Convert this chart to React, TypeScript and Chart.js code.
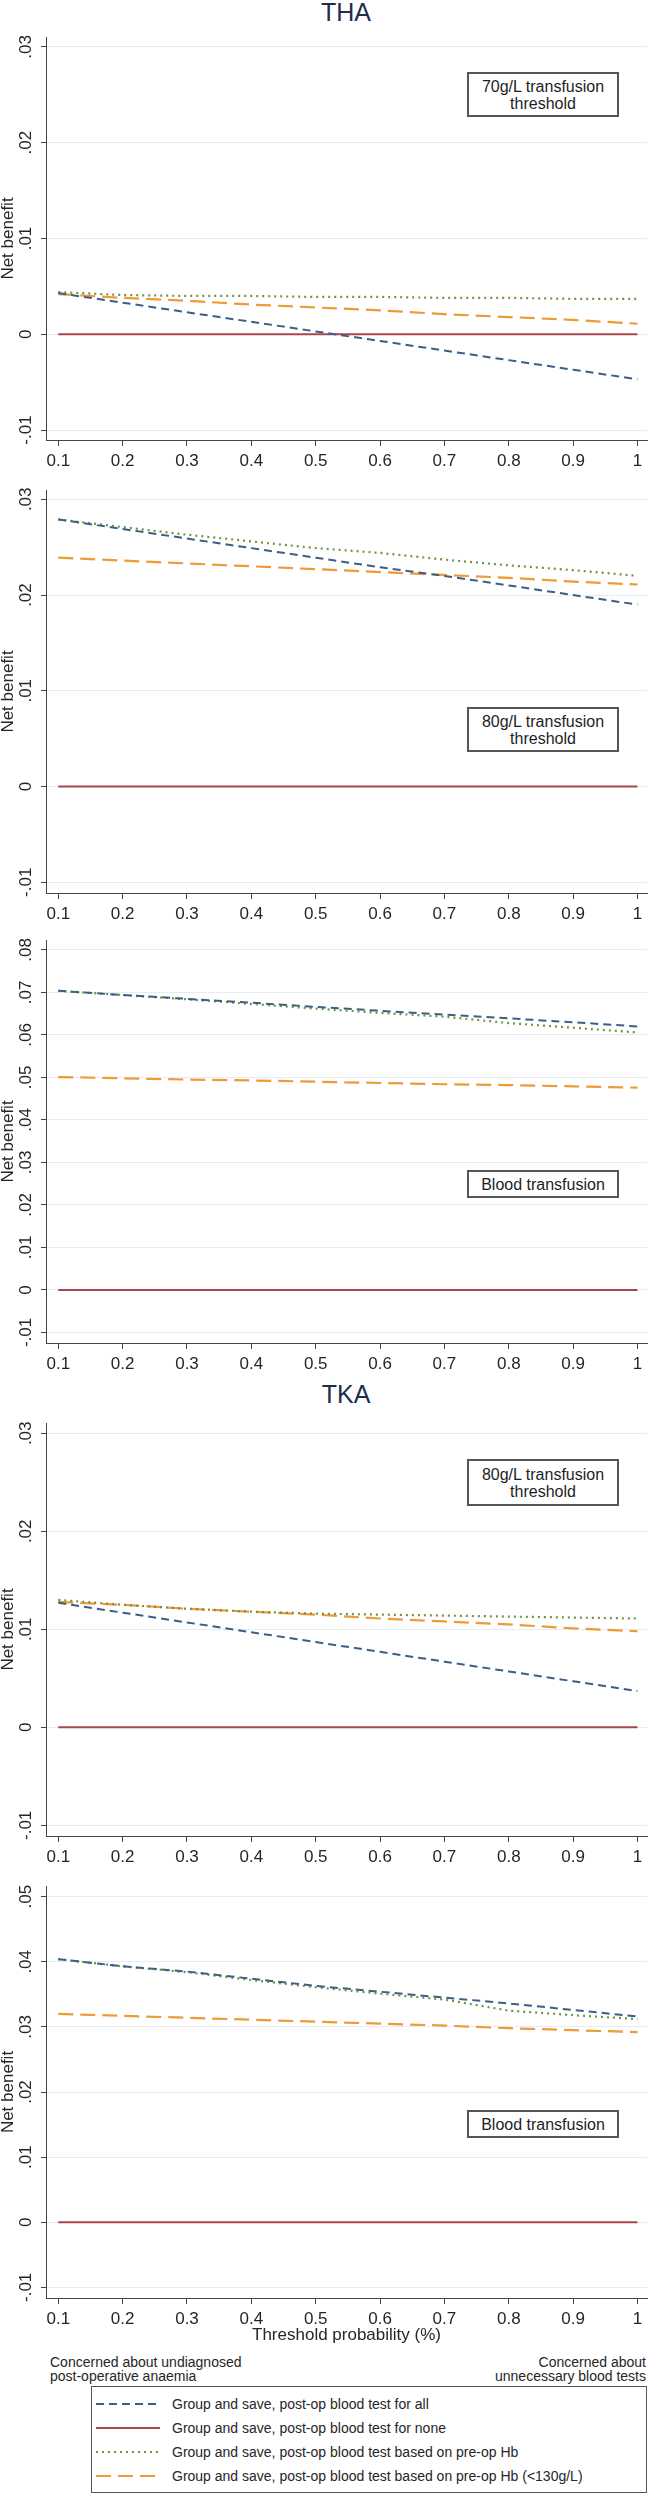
import React, { useEffect, useRef } from 'react';
import { Chart, registerables } from 'chart.js';

Chart.register(...registerables);

const FONT = "'Liberation Sans', Arial, Helvetica, sans-serif";
Chart.defaults.font.family = FONT;

// ---------- data ----------
const thresholds = [0.1, 0.2, 0.3, 0.4, 0.5, 0.6, 0.7, 0.8, 0.9, 1.0];
const xTickValues = [0.1, 0.2, 0.3, 0.4, 0.5, 0.6, 0.7, 0.8, 0.9, 1.0];
const xTickLabels = ['0.1', '0.2', '0.3', '0.4', '0.5', '0.6', '0.7', '0.8', '0.9', '1'];

const yTicksLow = [-0.01, 0, 0.01, 0.02, 0.03];
const yTicksThaTx = [-0.01, 0, 0.01, 0.02, 0.03, 0.04, 0.05, 0.06, 0.07, 0.08];
const yTicksTkaTx = [-0.01, 0, 0.01, 0.02, 0.03, 0.04, 0.05];

const seriesLabels = [
  'Group and save, post-op blood test for all',
  'Group and save, post-op blood test for none',
  'Group and save, post-op blood test based on pre-op Hb',
  'Group and save, post-op blood test based on pre-op Hb (<130g/L)',
];

const sectionTitles = ['THA', 'TKA'];
const panelNotes = [
  ['70g/L transfusion', 'threshold'],
  ['80g/L transfusion', 'threshold'],
  ['Blood transfusion'],
  ['80g/L transfusion', 'threshold'],
  ['Blood transfusion'],
];
const yAxisTitle = 'Net benefit';
const xAxisTitle = 'Threshold probability (%)';
const leftNote = ['Concerned about undiagnosed', 'post-operative anaemia'];
const rightNote = ['Concerned about', 'unnecessary blood tests'];

const testForNone = [0, 0, 0, 0, 0, 0, 0, 0, 0, 0];

const tha70All = [0.0043, 0.0033, 0.0023, 0.0013, 0.0003, -0.0007, -0.0017, -0.0027, -0.0037, -0.0047];
const tha70PreHb = [0.0044, 0.0041, 0.0040, 0.0040, 0.0039, 0.0039, 0.0038, 0.0038, 0.0037, 0.0037];
const tha70PreHb130 = [0.0042, 0.0038, 0.0035, 0.0031, 0.0028, 0.0025, 0.0021, 0.0018, 0.0015, 0.0011];

const tha80All = [0.0279, 0.0269, 0.0259, 0.0249, 0.0239, 0.0229, 0.0220, 0.0210, 0.0200, 0.0190];
const tha80PreHb = [0.0279, 0.0271, 0.0263, 0.0256, 0.0249, 0.0244, 0.0237, 0.0231, 0.0226, 0.0220];
const tha80PreHb130 = [0.0239, 0.0236, 0.0233, 0.0230, 0.0227, 0.0224, 0.0221, 0.0218, 0.0214, 0.0211];

const thaTxAll = [0.0704, 0.0694, 0.0685, 0.0676, 0.0666, 0.0657, 0.0648, 0.0639, 0.0630, 0.0620];
const thaTxPreHb = [0.0704, 0.0694, 0.0684, 0.0673, 0.0662, 0.0652, 0.0643, 0.0628, 0.0617, 0.0606];
const thaTxPreHb130 = [0.0501, 0.0498, 0.0495, 0.0493, 0.0490, 0.0487, 0.0484, 0.0482, 0.0479, 0.0476];

const tka80All = [0.0127, 0.0117, 0.0107, 0.0097, 0.0087, 0.0077, 0.0067, 0.0057, 0.0047, 0.0037];
const tka80PreHb = [0.0130, 0.0125, 0.0121, 0.0118, 0.0116, 0.0115, 0.0114, 0.0113, 0.0112, 0.0111];
const tka80PreHb130 = [0.0128, 0.0125, 0.0121, 0.0118, 0.0115, 0.0111, 0.0108, 0.0105, 0.0101, 0.0098];

const tkaTxAll = [0.0404, 0.0393, 0.0385, 0.0374, 0.0363, 0.0354, 0.0345, 0.0336, 0.0326, 0.0316];
const tkaTxPreHb = [0.0404, 0.0393, 0.0384, 0.0372, 0.0361, 0.0351, 0.0342, 0.0325, 0.0318, 0.0312];
const tkaTxPreHb130 = [0.0320, 0.0317, 0.0314, 0.0311, 0.0308, 0.0305, 0.0302, 0.0298, 0.0295, 0.0292];

// ---------- styles / layout ----------
const lineStyles = [
  { color: '#3c5f86', dash: [8, 5], width: 2 },
  { color: '#a8454f', dash: [], width: 2 },
  { color: '#6e9441', dash: [2, 4], width: 2.2 },
  { color: '#ee9a35', dash: [15, 7], width: 2.2 },
];

const TEXT = '#262626';
const AXIS = '#444444';
const GRID = '#e4edf0';
const PAD_TOP = 14;
const Y_AXIS_W = 46;
const X_MIN = 0.0809;
const X_MAX = 1.0148;

const panels = [
  { top: 37, bottom: 440, yMin: -0.01104, yMax: 0.03104, yTicks: yTicksLow, series: [tha70All, testForNone, tha70PreHb, tha70PreHb130], xh: 36, xTitle: false, box: { top: 72, h: 45 } },
  { top: 490, bottom: 893, yMin: -0.01112, yMax: 0.03097, yTicks: yTicksLow, series: [tha80All, testForNone, tha80PreHb, tha80PreHb130], xh: 36, xTitle: false, box: { top: 707, h: 45 } },
  { top: 940, bottom: 1343, yMin: -0.01249, yMax: 0.08235, yTicks: yTicksThaTx, series: [thaTxAll, testForNone, thaTxPreHb, thaTxPreHb130], xh: 36, xTitle: false, box: { top: 1170, h: 28 } },
  { top: 1423, bottom: 1836, yMin: -0.01109, yMax: 0.03105, yTicks: yTicksLow, series: [tka80All, testForNone, tka80PreHb, tka80PreHb130], xh: 36, xTitle: false, box: { top: 1459, h: 47 } },
  { top: 1886, bottom: 2298, yMin: -0.01164, yMax: 0.05164, yTicks: yTicksTkaTx, series: [tkaTxAll, testForNone, tkaTxPreHb, tkaTxPreHb130], xh: 48, xTitle: true, box: { top: 2110, h: 28 } },
];

const fmtY = (v: number) => {
  if (Math.abs(v) < 1e-9) return '0';
  return v.toFixed(2).replace(/^(-?)0\./, '$1.');
};

function Panel({ cfg }: { cfg: any }) {
  const ref = useRef<HTMLCanvasElement | null>(null);
  const h = PAD_TOP + (cfg.bottom - cfg.top) + cfg.xh;
  useEffect(() => {
    if (!ref.current) return;
    const chart = new Chart(ref.current, {
      type: 'line',
      data: {
        datasets: lineStyles.map((st, k) => ({
          label: seriesLabels[k],
          data: thresholds.map((x, i) => ({ x, y: cfg.series[k][i] })),
          borderColor: st.color,
          borderWidth: st.width,
          borderDash: st.dash,
          pointRadius: 0,
          fill: false,
          tension: 0,
        })),
      },
      options: {
        responsive: false,
        animation: false,
        layout: { padding: { top: PAD_TOP, right: 4, left: 0, bottom: 0 } },
        plugins: { legend: { display: false }, tooltip: { enabled: false } },
        scales: {
          x: {
            type: 'linear',
            min: X_MIN,
            max: X_MAX,
            afterBuildTicks: (s: any) => {
              s.ticks = xTickValues.map((v) => ({ value: v }));
            },
            afterFit: (s: any) => {
              s.height = cfg.xh;
            },
            ticks: {
              callback: (_v: any, i: number) => xTickLabels[i],
              font: { size: 17 },
              color: TEXT,
              padding: 5,
              minRotation: 0,
              maxRotation: 0,
              autoSkip: false,
            },
            grid: { drawOnChartArea: false, drawTicks: true, tickLength: 6, tickColor: AXIS, tickWidth: 1 },
            border: { display: true, color: AXIS, width: 1 },
            title: {
              display: cfg.xTitle,
              text: xAxisTitle,
              font: { size: 17 },
              color: TEXT,
              padding: 0,
            },
          },
          y: {
            type: 'linear',
            min: cfg.yMin,
            max: cfg.yMax,
            afterBuildTicks: (s: any) => {
              s.ticks = cfg.yTicks.map((v: number) => ({ value: v }));
            },
            afterFit: (s: any) => {
              s.width = Y_AXIS_W;
            },
            ticks: {
              callback: (v: any) => fmtY(Number(v)),
              font: { size: 17 },
              color: TEXT,
              padding: 0,
              minRotation: 90,
              maxRotation: 90,
              crossAlign: 'center',
              autoSkip: false,
            },
            grid: { color: GRID, lineWidth: 1, drawTicks: true, tickLength: 5, tickColor: AXIS, tickWidth: 1 },
            border: { display: true, color: AXIS, width: 1 },
            title: {
              display: true,
              text: yAxisTitle,
              font: { size: 17, lineHeight: 1 },
              color: TEXT,
              padding: 0,
            },
          },
        },
      } as any,
    });
    return () => chart.destroy();
  }, []);
  return (
    <canvas
      ref={ref}
      width={651}
      height={h}
      style={{ position: 'absolute', left: 0, top: cfg.top - PAD_TOP, width: 651, height: h }}
    />
  );
}

function NoteBox({ lines, top, h }: { lines: string[]; top: number; h: number }) {
  return (
    <div
      style={{
        position: 'absolute',
        left: 467,
        top,
        width: 152,
        height: h,
        boxSizing: 'border-box',
        border: '2px solid #555',
        background: '#fff',
        display: 'flex',
        flexDirection: 'column',
        justifyContent: 'center',
        alignItems: 'center',
        fontSize: 16,
        lineHeight: '17px',
        color: '#1e1e1e',
      }}
    >
      {lines.map((l, i) => (
        <div key={i}>{l}</div>
      ))}
    </div>
  );
}

function LegendLine({ st }: { st: { color: string; dash: number[]; width: number } }) {
  return (
    <svg width={64} height={8} style={{ position: 'absolute', left: 5, top: 0 }}>
      <line
        x1={0}
        y1={4}
        x2={64}
        y2={4}
        stroke={st.color}
        strokeWidth={2}
        strokeDasharray={st.dash.length ? st.dash.join(' ') : undefined}
      />
    </svg>
  );
}

export default function App() {
  const legendYs = [2404, 2428, 2452, 2476];
  return (
    <div
      style={{
        position: 'absolute',
        left: 0,
        top: 0,
        width: 651,
        height: 2495,
        background: '#fff',
        fontFamily: FONT,
        overflow: 'hidden',
      }}
    >
      <div style={{ position: 'absolute', left: 246, width: 200, top: -3, lineHeight: '30px', fontSize: 25, textAlign: 'center', color: '#1d2c4f' }}>
        {sectionTitles[0]}
      </div>
      <div style={{ position: 'absolute', left: 246, width: 200, top: 1379, lineHeight: '30px', fontSize: 25, textAlign: 'center', color: '#1d2c4f' }}>
        {sectionTitles[1]}
      </div>
      {panels.map((p, i) => (
        <Panel key={i} cfg={p} />
      ))}
      {panels.map((p, i) => (
        <NoteBox key={'n' + i} lines={panelNotes[i]} top={p.box.top} h={p.box.h} />
      ))}
      <div style={{ position: 'absolute', left: 50, top: 2355, fontSize: 14, lineHeight: '14px', color: TEXT }}>
        {leftNote.map((l, i) => (
          <div key={i}>{l}</div>
        ))}
      </div>
      <div style={{ position: 'absolute', left: 346, width: 300, top: 2355, fontSize: 14, lineHeight: '14px', color: TEXT, textAlign: 'right' }}>
        {rightNote.map((l, i) => (
          <div key={i}>{l}</div>
        ))}
      </div>
      <div
        style={{
          position: 'absolute',
          left: 91,
          top: 2386,
          width: 556,
          height: 107,
          boxSizing: 'border-box',
          border: '1px solid #555',
        }}
      />
      {seriesLabels.map((lab, i) => (
        <div key={'l' + i} style={{ position: 'absolute', left: 91, top: legendYs[i] - 4, width: 556, height: 8 }}>
          <LegendLine st={lineStyles[i]} />
          <div style={{ position: 'absolute', left: 81, top: -4, fontSize: 14, lineHeight: '16px', color: TEXT, whiteSpace: 'nowrap' }}>
            {lab}
          </div>
        </div>
      ))}
    </div>
  );
}
